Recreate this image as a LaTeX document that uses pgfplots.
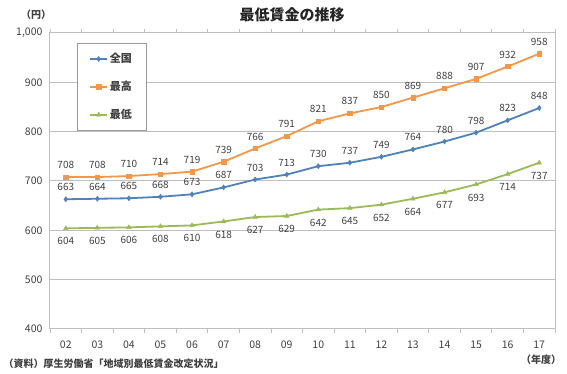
\documentclass[border=0pt]{standalone}
\usepackage{fontspec}
\setmainfont{Noto Sans CJK JP}
\usepackage{pgfplots}
\pgfplotsset{compat=1.18}
\definecolor{cblue}{HTML}{4F81BD}
\definecolor{corange}{HTML}{F79646}
\definecolor{cgreen}{HTML}{9BBB59}
\definecolor{gridc}{HTML}{BFBFBF}
\definecolor{txt}{HTML}{404040}
\begin{document}
\begin{tikzpicture}
\path[use as bounding box] (0pt,0pt) rectangle (567pt,374pt);
\begin{axis}[
  at={(50pt,45pt)}, anchor=south west,
  scale only axis, width=505pt, height=296pt,
  xmin=-0.5, xmax=15.5, ymin=400, ymax=1000,
  ytick={400,500,...,1000},
  xtick={0,...,15},
  xticklabels={02,03,04,05,06,07,08,09,10,11,12,13,14,15,16,17},
  minor xtick={-0.5,0.5,...,15.5},
  major tick length=0pt,
  minor tick length=4pt,
  xtick align=outside,
  ymajorgrids, grid style={gridc, line width=1pt},
  axis line style={gridc, line width=1pt},
  minor tick style={gridc, line width=0.8pt},
  /pgf/number format/assume math mode=true,
  /pgf/number format/1000 sep={,},
  ticklabel style={font=\fontsize{10.5}{12}\selectfont, text=txt},
  xticklabel style={yshift=-8pt},
  yticklabel style={xshift=-4pt},
  legend style={at={(rel axis cs:0.0535,0.966)}, anchor=north west,
    draw=gray!80, line width=0.8pt, font=\fontsize{11}{12}\selectfont\bfseries,
    text=txt, inner xsep=12pt, inner ysep=8pt, row sep=13pt, cells={anchor=west}},
  legend image post style={line width=1.5pt},
  legend image code/.code={\draw[mark repeat=2,mark phase=2] plot coordinates {(0cm,0cm) (0.3cm,0cm) (0.6cm,0cm)};},
  nodes near coords,
  every node near coord/.append style={font=\fontsize{10}{11}\selectfont, text=txt, anchor=center},
]
\addplot[cblue, line width=1.8pt, mark=diamond*, mark size=2.5pt, mark options={line width=0.5pt},
  every node near coord/.append style={yshift=12pt}] coordinates {
(0,663) (1,664) (2,665) (3,668) (4,673) (5,687) (6,703) (7,713) (8,730) (9,737) (10,749) (11,764) (12,780) (13,798) (14,823) (15,848)};
\addlegendentry{全国}
\addplot[corange, line width=1.8pt, mark=square*, mark size=2.2pt, mark options={line width=0.5pt},
  every node near coord/.append style={yshift=12pt}] coordinates {
(0,708) (1,708) (2,710) (3,714) (4,719) (5,739) (6,766) (7,791) (8,821) (9,837) (10,850) (11,869) (12,888) (13,907) (14,932) (15,958)};
\addlegendentry{最高}
\addplot[cgreen, line width=1.8pt, mark=triangle*, mark size=2.6pt, mark options={line width=0.5pt},
  every node near coord/.append style={yshift=-13pt}] coordinates {
(0,604) (1,605) (2,606) (3,608) (4,610) (5,618) (6,627) (7,629) (8,642) (9,645) (10,652) (11,664) (12,677) (13,693) (14,714) (15,737)};
\addlegendentry{最低}
\end{axis}
\node[font=\fontsize{15}{17}\selectfont\bfseries, text=black!85] at (292pt,359pt) {最低賃金の推移};
\node[font=\fontsize{10}{12}\selectfont\bfseries, text=txt] at (36pt,359pt) {（円）};
\node[font=\fontsize{10}{12}\selectfont\bfseries, text=txt] at (541pt,14pt) {（年度）};
\node[font=\fontsize{10}{12}\selectfont\bfseries, text=txt, anchor=west] at (0pt,10pt) {（資料）厚生労働省「地域別最低賃金改定状況」};
\end{tikzpicture}
\end{document}
